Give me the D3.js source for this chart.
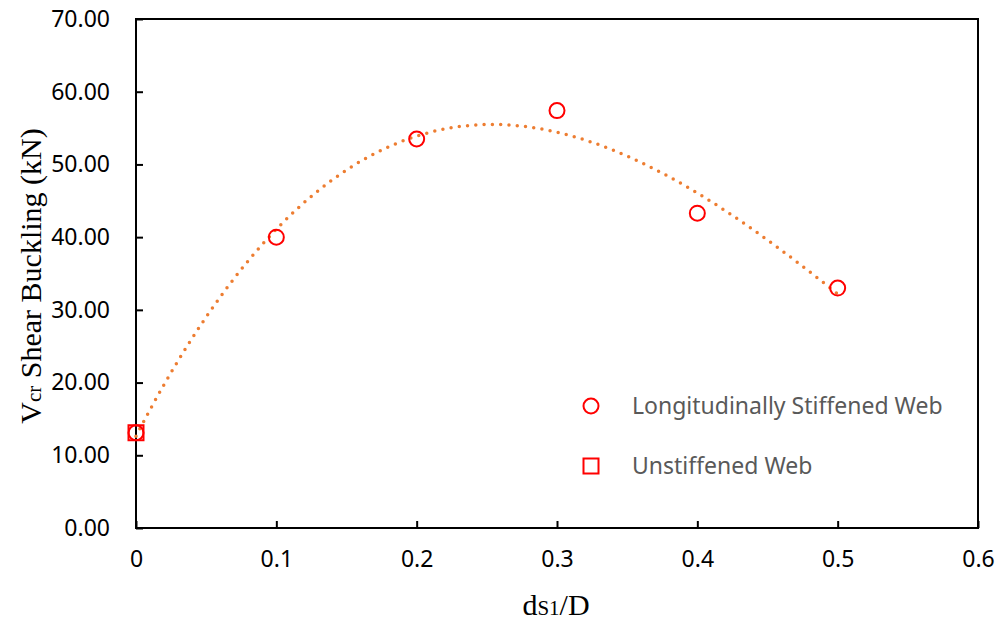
<!DOCTYPE html>
<meta charset="utf-8" />
<script src="https://d3js.org/d3.v7.min.js"></script>
<style>
  body { margin: 0; background: #fff; }
</style>
<div id="chart"></div>
<script>
  // Data
  const ratio = [0, 0.1, 0.2, 0.3, 0.4, 0.5];
  const stiffened = [13.1, 40.0, 53.5, 57.4, 43.3, 33.0];
  const unstiffened = [{ x: 0, y: 13.1 }];
  const xTicks = [0, 0.1, 0.2, 0.3, 0.4, 0.5, 0.6];
  const yTicks = [0, 10, 20, 30, 40, 50, 60, 70];
  const legendNames = ["Longitudinally Stiffened Web", "Unstiffened Web"];

  const W = 1001, H = 621;
  const margin = { top: 19, right: 23, bottom: 93, left: 136 },
    width = W - margin.left - margin.right,
    height = H - margin.top - margin.bottom;

  const root = d3.select("#chart").append("svg")
    .attr("width", W)
    .attr("height", H);

  const svg = root.append("g")
    .attr("transform", `translate(${margin.left}, ${margin.top})`);

  const x = d3.scaleLinear().domain([0, 0.6]).range([0, width]);
  const y = d3.scaleLinear().domain([0, 70]).range([height, 0]);

  // plot border
  svg.append("rect")
    .attr("width", width)
    .attr("height", height)
    .attr("fill", "none")
    .attr("stroke", "#000")
    .attr("stroke-width", 2);

  // axes, ticks pointing inward
  const xAxis = svg.append("g")
    .attr("transform", `translate(0, ${height})`)
    .call(d3.axisBottom(x).tickValues(xTicks).tickSize(-7).tickPadding(23)
      .tickFormat((d) => (d === 0 ? "0" : d3.format(".1f")(d))));
  const yAxis = svg.append("g")
    .call(d3.axisLeft(y).tickValues(yTicks).tickSize(-7).tickPadding(26)
      .tickFormat(d3.format(".2f")));

  [xAxis, yAxis].forEach((a) => {
    a.select(".domain").remove();
    a.selectAll(".tick line").attr("stroke", "#000").attr("stroke-width", 2);
    a.selectAll(".tick text")
      .attr("fill", "#000")
      .style("font-family", "'Noto Sans', sans-serif")
      .style("font-size", "23px");
  });

  // cubic polynomial trendline (least squares on the stiffened series)
  function polyFit(xs, ys, order) {
    const n = order + 1;
    const A = [];
    for (let i = 0; i < n; i++) {
      A.push([]);
      for (let j = 0; j < n; j++) A[i].push(d3.sum(xs, (v) => Math.pow(v, i + j)));
      A[i].push(d3.sum(xs, (v, k) => Math.pow(v, i) * ys[k]));
    }
    for (let c = 0; c < n; c++) {
      let p = c;
      for (let r = c + 1; r < n; r++) if (Math.abs(A[r][c]) > Math.abs(A[p][c])) p = r;
      [A[c], A[p]] = [A[p], A[c]];
      for (let r = 0; r < n; r++) {
        if (r === c) continue;
        const f = A[r][c] / A[c][c];
        for (let k = c; k <= n; k++) A[r][k] -= f * A[c][k];
      }
    }
    return A.map((row, i) => row[n] / row[i]);
  }
  const coef = polyFit(ratio, stiffened, 3);
  const fit = (t) => coef.reduce((s, c, i) => s + c * Math.pow(t, i), 0);
  const trend = d3.range(0, 0.5001, 0.005).map((t) => ({ x: t, y: fit(t) }));

  svg.append("path")
    .datum(trend)
    .attr("fill", "none")
    .attr("stroke", "#ED7D31")
    .attr("stroke-width", 3.5)
    .attr("stroke-linecap", "round")
    .attr("stroke-dasharray", "0 8.3")
    .attr("d", d3.line().x((d) => x(d.x)).y((d) => y(d.y)));

  // markers
  svg.append("g")
    .selectAll("circle")
    .data(ratio.map((r, i) => ({ x: r, y: stiffened[i] })))
    .join("circle")
    .attr("cx", (d) => x(d.x))
    .attr("cy", (d) => y(d.y))
    .attr("r", 7.5)
    .attr("fill", "none")
    .attr("stroke", "#FF0000")
    .attr("stroke-width", 2);

  svg.append("g")
    .selectAll("rect")
    .data(unstiffened)
    .join("rect")
    .attr("x", (d) => x(d.x) - 7.5)
    .attr("y", (d) => y(d.y) - 7.5)
    .attr("width", 15)
    .attr("height", 15)
    .attr("fill", "none")
    .attr("stroke", "#FF0000")
    .attr("stroke-width", 2);

  // legend
  const legend = root.append("g").attr("transform", "translate(591, 406)");
  legend.append("circle").attr("r", 7.5)
    .attr("fill", "none").attr("stroke", "#FF0000").attr("stroke-width", 2);
  legend.append("rect").attr("x", -7.5).attr("y", 60 - 7.5)
    .attr("width", 15).attr("height", 15)
    .attr("fill", "none").attr("stroke", "#FF0000").attr("stroke-width", 2);
  legend.selectAll("text")
    .data(legendNames)
    .join("text")
    .attr("x", 41)
    .attr("y", (d, i) => i * 60)
    .attr("dy", "0.35em")
    .attr("fill", "#595959")
    .style("font-family", "'Noto Sans', sans-serif")
    .style("font-size", "23px")
    .text((d) => d);

  // axis titles
  const serif = "'Liberation Serif', 'Times New Roman', serif";
  const xt = root.append("text")
    .attr("x", 556)
    .attr("y", 615)
    .attr("text-anchor", "middle")
    .style("font-family", serif)
    .style("font-size", "30px");
  xt.append("tspan").text("d");
  xt.append("tspan").style("font-size", "21px").text("S1");
  xt.append("tspan").text("/D");

  const yt = root.append("text")
    .attr("transform", "translate(41, 276) rotate(-90)")
    .attr("text-anchor", "middle")
    .style("font-family", serif)
    .style("font-size", "30px");
  yt.append("tspan").text("V");
  yt.append("tspan").style("font-size", "21px").text("cr");
  yt.append("tspan").text(" Shear Buckling (kN)");
</script>
